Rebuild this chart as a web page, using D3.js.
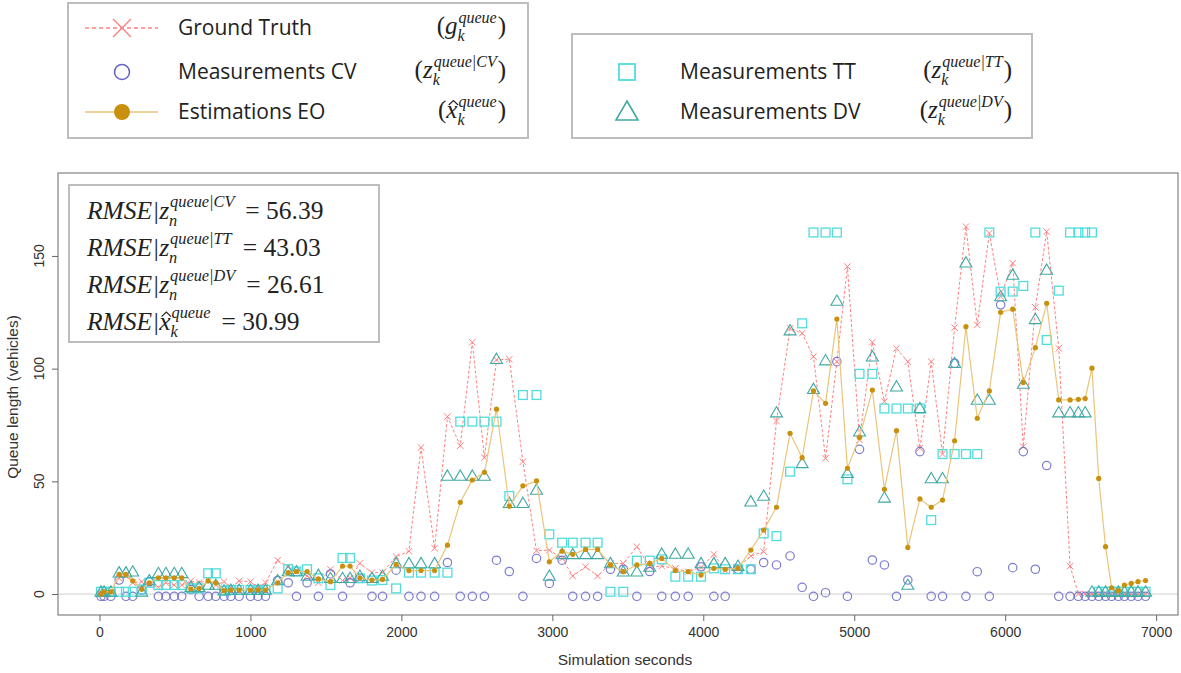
<!DOCTYPE html>
<html>
<head>
<meta charset="utf-8">
<script src="https://cdn.jsdelivr.net/npm/d3@7"></script>
<style>
  body { margin: 0; background: #fff; }
  svg { display: block; }
</style>
</head>
<body>
<svg id="chart" width="1181" height="673"></svg>
<script>
// simulation time of each step (s)
const times = [10,30,75,130,175,220,280,330,390,440,495,545,605,660,720,770,825,870,925,1000,1050,1100,1180,1250,1305,1375,1450,1530,1610,1660,1725,1805,1875,
  1965,2050,2130,2220,2305,2390,2470,2550,2630,2715,2805,2895,2980,3065,3135,3220,3300,3385,3470,3560,3645,3725,3815,3900,3985,4070,4145,4230,4315,4400,4485,
  4575,4655,4730,4810,4885,4955,5035,5120,5200,5280,5355,5435,5510,5585,5665,5740,5815,5895,5970,6050,6120,6200,6275,6355,6430,6485,6530,6575,6620,6665,6705,6750,6790,6835,6880,6930];

const groundTruth = [0,1,1,7,8,5,5.5,4,3,5,4,4,5.8,5,6,4,5.5,3,5.8,5.5,3,5,15,12,10,8,5,11,6,7,13.6,9.5,9.5,
  16.6,19,65,20.3,78.7,65.8,111.7,60.5,103.9,104.2,58.7,19.2,19.5,15.8,8,12.1,8,13.6,13.6,21,12.1,12.4,11.4,9.9,11.8,17.6,10.4,12.1,16.9,18.8,76.8,
  117.9,115.7,105.3,60.2,103.1,145.3,68.4,111.7,85.4,109,103.1,64.7,103.1,62.1,118.2,163,119.4,160.1,132,146.8,65.4,127.2,160.8,109,12.4,0,0,0,0,0,0,0,0,0,0,0];

const measCV = [-1,-1,-1,6.2,-1,-1,1.8,5.5,-1,-1,-1,-1,2,-1,-1,-1,-1,-1,-1,-1,-1,-1,6,5,-1,5,-1,8.9,-1,5,7,-1,-1,
  10.6,-1,-1,-1,14,-1,-1,-1,15,10,-1,15.8,4.7,15,-1,-1,-1,11,11,-1,10,-1,-1,-1,12.1,-1,-1,11,11,14,12.9,
  16.9,3,-1,0.6,103.1,-1,64.2,15.1,12.9,-1,6.2,63.2,-1,-1,102.4,-1,9.9,-1,128.3,11.7,63.2,11,57,-1,-1,-1,-1,-1,-1,-1,-1,-1,-1,-1,-1,-1];

const measTT = [1,1,1,1,1,1,2,5,4,4,4,4,2.5,2.5,9.2,9.2,1.5,1.8,1.8,1.8,1.8,1.8,2.5,11,10,11,7,4,16,16,7,6,6.2,
  2.5,9.5,9.5,9.5,9.5,76.5,76.5,76.5,76.5,43.5,88.3,88.3,26.5,22.8,22.8,22.8,22.8,1,1,14.8,14.8,15.4,7.7,7.7,7.7,11.4,11,11,11,26.9,25.7,
  54.3,120.1,160.4,160.4,160.4,50.9,97.7,97.7,82.3,82.3,82.3,82.3,32.8,62.1,62.1,62.1,62.1,160.4,134.2,134.2,136.7,160.4,112.7,134.6,160.4,160.4,160.4,160.4,1,1,1,1,1,1,1,1];

const measDV = [1,1,1,9.5,9.5,9.9,1,6,9.2,9.2,9.2,9.2,3,3,4,4,1.5,1.8,1.8,1.8,1.8,1.8,6,10,10,8,8.4,7,7,7,8,7,8,
  13.6,13.6,13.6,13.6,52.4,52.4,52.4,52.4,104.2,40.3,40.3,46.2,8,17.6,17.6,17.6,17.6,13.6,9.9,9.9,12,17.8,17.8,17.8,13.6,13.6,13.6,12.4,41,43.5,80.5,
  116.9,58,90.9,103.6,130,53.6,72,105.3,42.7,92,4,82.4,51.3,51.3,102.4,147,86.1,86.1,132,141.6,93.2,121.9,143.8,80.5,80.5,80.5,80.5,1,1,1,1,1,1,1,1,1];

const estEO = [0,1,1,8.7,8.7,5.9,2.1,5,7.2,7.2,7.2,7.2,2.2,2.5,5.8,5,1.5,1.8,1.8,1.8,1.8,1.8,5,9.5,10,10,6.7,5.5,12.4,12.4,7.2,6.2,6.5,
  13.2,10.4,10.4,10.4,21.7,40.7,50.6,54,82,39,48,50.2,14.3,19,17.6,19.8,19.8,12.9,9.9,12.9,13.6,15.8,10.4,9.9,8.4,11.4,11,11.4,19.5,28.4,38.5,
  71.3,60.5,90.1,84.6,122,55.8,69.5,90.5,46.5,72.5,20.7,42.2,38.5,41.7,68,118.6,78,90.1,125,126.4,93.8,109.3,129,86.1,86.1,86.4,86.7,100.2,51.3,21,2.8,1.5,4,4.7,5.5,6];

const xTicks = [0,1000,2000,3000,4000,5000,6000,7000];
const yTicks = [0,50,100,150];

const rmseLabels = ['CV','TT','DV'];
const rmseValues = ['56.39','43.03','26.61','30.99'];

const svg = d3.select('#chart')

const plotLeft = 58, plotRight = 1178, plotTop = 173, plotBottom = 615

let x = d3.scaleLinear().domain([-275, 7145]).range([plotLeft, plotRight])
let y = d3.scaleLinear().domain([-9.3, 186.8]).range([plotBottom, plotTop])

const colGT = '#ff8080', colCV = '#6666c8', colTT = '#52dcdc', colDV = '#3fa9a2', colEO = '#c8900c', colEOline = '#e9c57a'

// zero line
svg.append('line')
   .attr('x1', plotLeft).attr('x2', plotRight)
   .attr('y1', y(0)).attr('y2', y(0))
   .attr('stroke', '#d0d0d0').attr('stroke-width', 1)

let pts = times.map((t, i) => ({t: t, gt: groundTruth[i], cv: measCV[i], tt: measTT[i], dv: measDV[i], eo: estEO[i]}))

// ground truth
svg.append('path')
   .datum(pts)
   .attr('d', d3.line().x(d => x(d.t)).y(d => y(d.gt)))
   .attr('fill', 'none')
   .attr('stroke', colGT)
   .attr('stroke-width', 1)
   .attr('stroke-dasharray', '3,2')

svg.selectAll('.gt')
   .data(pts)
   .enter()
   .append('path')
   .attr('class', 'gt')
   .attr('d', d => {
      let cx = x(d.t), cy = y(d.gt), s = 3.2
      return `M${cx-s},${cy-s}L${cx+s},${cy+s}M${cx-s},${cy+s}L${cx+s},${cy-s}`
   })
   .attr('stroke', colGT).attr('stroke-width', 1).attr('fill', 'none')

// CV circles
svg.selectAll('.cv')
   .data(pts.filter(d => d.cv != null))
   .enter()
   .append('circle')
   .attr('class', 'cv')
   .attr('cx', d => x(d.t)).attr('cy', d => y(d.cv)).attr('r', 4.2)
   .attr('fill', 'none').attr('stroke', colCV).attr('stroke-width', 1.2).attr('stroke-opacity', 0.85)

// TT squares
svg.selectAll('.tt')
   .data(pts.filter(d => d.tt != null))
   .enter()
   .append('rect')
   .attr('class', 'tt')
   .attr('x', d => x(d.t) - 4.4).attr('y', d => y(d.tt) - 4.4)
   .attr('width', 8.8).attr('height', 8.8)
   .attr('fill', 'none').attr('stroke', colTT).attr('stroke-width', 1.3)

// DV triangles
svg.selectAll('.dv')
   .data(pts.filter(d => d.dv != null))
   .enter()
   .append('path')
   .attr('class', 'dv')
   .attr('d', d => {
      let cx = x(d.t), cy = y(d.dv)
      return `M${cx},${cy-6}L${cx+6},${cy+4.3}L${cx-6},${cy+4.3}Z`
   })
   .attr('fill', 'none').attr('stroke', colDV).attr('stroke-width', 1.1)

// estimation
svg.append('path')
   .datum(pts)
   .attr('d', d3.line().x(d => x(d.t)).y(d => y(d.eo)))
   .attr('fill', 'none')
   .attr('stroke', colEOline)
   .attr('stroke-width', 1.2)

svg.selectAll('.eo')
   .data(pts)
   .enter()
   .append('circle')
   .attr('class', 'eo')
   .attr('cx', d => x(d.t)).attr('cy', d => y(d.eo)).attr('r', 2.6)
   .attr('fill', colEO)

// frame
svg.append('rect')
   .attr('x', plotLeft).attr('y', plotTop)
   .attr('width', plotRight - plotLeft).attr('height', plotBottom - plotTop)
   .attr('fill', 'none').attr('stroke', '#8c8c8c').attr('stroke-width', 1.3)

// axes
let xAxis = svg.append('g')
   .attr('transform', `translate(0,${plotBottom})`)
   .call(d3.axisBottom(x).tickValues(xTicks).tickSize(6).tickPadding(6).tickFormat(d3.format('d')))
xAxis.select('.domain').remove()
xAxis.selectAll('line').attr('stroke', '#666')
xAxis.selectAll('text').attr('fill', '#333').style('font-family', 'Liberation Sans, Arial, sans-serif').style('font-size', '14px')

let yAxis = svg.append('g')
   .attr('transform', `translate(${plotLeft},0)`)
   .call(d3.axisLeft(y).tickValues(yTicks).tickSize(6).tickFormat(''))
yAxis.select('.domain').remove()
yAxis.selectAll('line').attr('stroke', '#666')

svg.selectAll('.ylab')
   .data(yTicks)
   .enter()
   .append('text')
   .attr('class', 'ylab')
   .attr('transform', d => `translate(${plotLeft - 14},${y(d)}) rotate(-90)`)
   .attr('text-anchor', 'middle')
   .attr('fill', '#333')
   .style('font-family', 'Liberation Sans, Arial, sans-serif')
   .style('font-size', '14px')
   .text(d => d)

svg.append('text')
   .attr('x', 625).attr('y', 665)
   .attr('text-anchor', 'middle')
   .attr('fill', '#333')
   .style('font-family', 'Liberation Sans, Arial, sans-serif')
   .style('font-size', '15.5px')
   .text('Simulation seconds')

svg.append('text')
   .attr('transform', 'translate(18,397) rotate(-90)')
   .attr('text-anchor', 'middle')
   .attr('fill', '#333')
   .style('font-family', 'Liberation Sans, Arial, sans-serif')
   .style('font-size', '15.5px')
   .text('Queue length (vehicles)')

// math text as one <text> made of tspans: parts are {t, sup, sub, up, hat, gap}
let mathText = (parent, px, py, parts, size, alignEnd) => {
   let txt = parent.append('text')
      .attr('fill', '#222')
      .style('font-family', 'Liberation Serif, DejaVu Serif, serif')
   let small = size * 0.64
   let cx = 0
   let spans = []
   let hats = []
   let add = (s, dx, dy, fs, italic) => {
      let sp = txt.append('tspan')
         .attr('x', dx).attr('y', dy)
         .style('font-size', fs + 'px')
         .style('font-style', italic ? 'italic' : 'normal')
         .text(s)
      spans.push({sp: sp, x: dx, y: dy})
      return sp
   }
   parts.forEach(p => {
      cx += p.gap || 0
      let w = add(p.t, cx, 0, size, !p.up).node().getComputedTextLength()
      if (p.hat) hats.push({cx: cx + w / 2 + 1.5, w: w * 0.42})
      cx += w
      if (p.sup || p.sub) {
         let w2 = 0
         if (p.sup) w2 = Math.max(w2, add(p.sup, cx + 1, -size * 0.46, small, true).node().getComputedTextLength())
         if (p.sub) w2 = Math.max(w2, add(p.sub, cx, size * 0.26, small, true).node().getComputedTextLength())
         cx += w2 + 2
      }
   })
   let ox = alignEnd ? px - cx : px
   spans.forEach(s => s.sp.attr('x', s.x + ox).attr('y', s.y + py))
   hats.forEach(h => {
      let hx = h.cx + ox, hy = py - size * 0.66
      parent.append('path')
         .attr('d', `M${hx - h.w},${hy + 3.5}L${hx},${hy - 1}L${hx + h.w},${hy + 3.5}`)
         .attr('fill', 'none').attr('stroke', '#222').attr('stroke-width', 1.2)
   })
   return txt
}

// legend 1
let leg = svg.append('g')
leg.append('rect').attr('x', 68).attr('y', 3).attr('width', 460).attr('height', 135)
   .attr('fill', '#fff').attr('stroke', '#bdbdbd').attr('stroke-width', 2)
leg.append('rect').attr('x', 572).attr('y', 34).attr('width', 460).attr('height', 104)
   .attr('fill', '#fff').attr('stroke', '#bdbdbd').attr('stroke-width', 2)

let legText = (tx, ty, s) => leg.append('text').attr('x', tx).attr('y', ty)
   .attr('fill', '#222').style('font-family', 'Open Sans, Noto Sans, sans-serif').style('font-size', '21px').text(s)

leg.append('line').attr('x1', 85).attr('x2', 158).attr('y1', 28).attr('y2', 28)
   .attr('stroke', colGT).attr('stroke-width', 1.3).attr('stroke-dasharray', '4,3')
leg.append('path').attr('d', 'M113,19L131,37M113,37L131,19').attr('stroke', colGT).attr('stroke-width', 1.4)
legText(178, 35, 'Ground Truth')
mathText(leg, 506, 34, [{t: '(', up: true}, {t: 'g', sup: 'queue', sub: 'k'}, {t: ')', up: true}], 25, true)

leg.append('circle').attr('cx', 122).attr('cy', 72).attr('r', 7.5)
   .attr('fill', 'none').attr('stroke', colCV).attr('stroke-width', 1.6)
legText(178, 79, 'Measurements CV')
mathText(leg, 506, 78, [{t: '(', up: true}, {t: 'z', sup: 'queue|CV', sub: 'k'}, {t: ')', up: true}], 25, true)

leg.append('line').attr('x1', 85).attr('x2', 158).attr('y1', 112).attr('y2', 112)
   .attr('stroke', colEOline).attr('stroke-width', 1.6)
leg.append('circle').attr('cx', 122).attr('cy', 112).attr('r', 8).attr('fill', colEO)
legText(178, 119, 'Estimations EO')
mathText(leg, 506, 118, [{t: '(', up: true}, {t: 'x', sup: 'queue', sub: 'k', hat: true}, {t: ')', up: true}], 25, true)

// legend 2
leg.append('rect').attr('x', 619).attr('y', 64).attr('width', 16).attr('height', 16)
   .attr('fill', 'none').attr('stroke', colTT).attr('stroke-width', 1.8)
legText(680, 79, 'Measurements TT')
mathText(leg, 1012, 78, [{t: '(', up: true}, {t: 'z', sup: 'queue|TT', sub: 'k'}, {t: ')', up: true}], 25, true)

leg.append('path').attr('d', 'M627,101L638,120L616,120Z')
   .attr('fill', 'none').attr('stroke', colDV).attr('stroke-width', 1.6)
legText(680, 119, 'Measurements DV')
mathText(leg, 1012, 118, [{t: '(', up: true}, {t: 'z', sup: 'queue|DV', sub: 'k'}, {t: ')', up: true}], 25, true)

// RMSE box
leg.append('rect').attr('x', 69).attr('y', 185).attr('width', 310).attr('height', 157)
   .attr('fill', '#fff').attr('stroke', '#bdbdbd').attr('stroke-width', 2)
let rmseY = [219, 256, 293, 330]
rmseLabels.forEach((lab, i) => {
   mathText(leg, 87, rmseY[i], [{t: 'RMSE|z', sup: 'queue|' + lab, sub: 'n'}, {t: '= ' + rmseValues[i], up: true, gap: 10}], 25.5, false)
})
mathText(leg, 87, rmseY[3], [{t: 'RMSE|'}, {t: 'x', sup: 'queue', sub: 'k', hat: true}, {t: '= ' + rmseValues[3], up: true, gap: 10}], 25.5, false)
</script>
</body>
</html>
